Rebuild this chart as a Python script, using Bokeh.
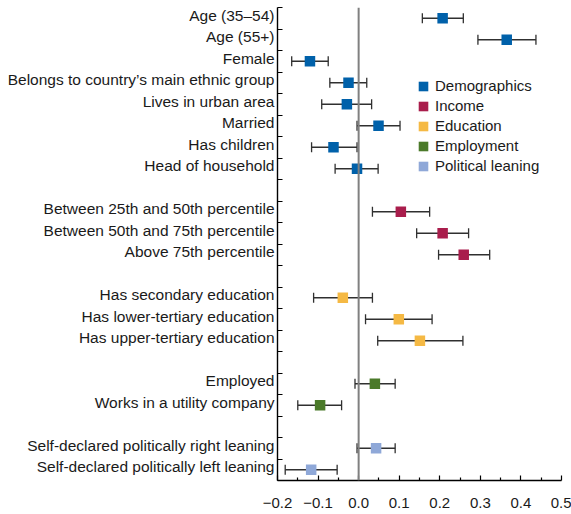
from bokeh.plotting import figure
from bokeh.models import (ColumnDataSource, Range1d, FixedTicker, Span, Whisker,
                          TeeHead, Legend, LegendItem)
from bokeh.embed import file_html
from bokeh.resources import INLINE

# Coefficient estimates with 95% confidence bounds, grouped by variable type
groups = ["Demographics", "Income", "Education", "Employment", "Political leaning"]
colors = ["#0061AA", "#A91D4C", "#F5B944", "#4B7A2A", "#8FA8D8"]

demo_labels = ["Age (35\u201354)", "Age (55+)", "Female",
               "Belongs to country\u2019s main ethnic group", "Lives in urban area",
               "Married", "Has children", "Head of household"]
demo_est = [0.207, 0.365, -0.120, -0.025, -0.029, 0.049, -0.062, -0.004]
demo_lo = [0.157, 0.294, -0.165, -0.071, -0.091, -0.004, -0.116, -0.058]
demo_hi = [0.258, 0.437, -0.075, 0.020, 0.032, 0.102, -0.004, 0.048]

inc_labels = ["Between 25th and 50th percentile", "Between 50th and 75th percentile",
              "Above 75th percentile"]
inc_est = [0.104, 0.207, 0.259]
inc_lo = [0.034, 0.143, 0.197]
inc_hi = [0.175, 0.271, 0.323]

edu_labels = ["Has secondary education", "Has lower-tertiary education",
              "Has upper-tertiary education"]
edu_est = [-0.039, 0.099, 0.151]
edu_lo = [-0.111, 0.017, 0.047]
edu_hi = [0.034, 0.181, 0.257]

emp_labels = ["Employed", "Works in a utility company"]
emp_est = [0.040, -0.095]
emp_lo = [-0.009, -0.150]
emp_hi = [0.090, -0.042]

pol_labels = ["Self-declared politically right leaning",
              "Self-declared politically left leaning"]
pol_est = [0.043, -0.117]
pol_lo = [-0.004, -0.181]
pol_hi = [0.090, -0.053]

x_ticks = [-0.2, -0.1, 0.0, 0.1, 0.2, 0.3, 0.4, 0.5]
x_tick_labels = ["\u22120.2", "\u22120.1", "0.0", "0.1", "0.2", "0.3", "0.4", "0.5"]

group_data = [
    (demo_labels, demo_est, demo_lo, demo_hi),
    (inc_labels, inc_est, inc_lo, inc_hi),
    (edu_labels, edu_est, edu_lo, edu_hi),
    (emp_labels, emp_est, emp_lo, emp_hi),
    (pol_labels, pol_est, pol_lo, pol_hi),
]

# Assign one row per variable, leaving an empty row between groups
row = 1
group_rows = []
label_map = {}
LABEL_LIFT = 0.13  # category labels sit slightly above the row centre
for labels, *_ in group_data:
    rows = []
    for lab in labels:
        rows.append(row)
        label_map[row - LABEL_LIFT] = lab
        row += 1
    group_rows.append(rows)
    row += 1
n_rows = row - 2

FONT = "Liberation Sans"

p = figure(width=571, height=514, output_backend="svg", toolbar_location=None,
           x_range=Range1d(-0.2, 0.5), y_range=Range1d(n_rows + 0.5, 0.5),
           min_border_left=277, min_border_right=10, min_border_top=7,
           min_border_bottom=34)
p.outline_line_color = None
p.xgrid.visible = False
p.ygrid.visible = False
p.background_fill_color = "white"
p.border_fill_color = "white"

# x axis: labelled ticks every 0.1, short ticks in between
xa = p.xaxis[0]
xa.ticker = FixedTicker(ticks=x_ticks,
                        minor_ticks=[t + 0.05 for t in x_ticks[:-1]])
xa.major_label_overrides = {t: s for t, s in zip(x_ticks, x_tick_labels)}
xa.major_tick_in = 5
xa.major_tick_out = 0
xa.minor_tick_in = 3
xa.minor_tick_out = 0
xa.axis_line_width = 1.4
xa.major_tick_line_width = 1.2
xa.minor_tick_line_width = 1.2
xa.major_label_text_font = FONT
xa.major_label_text_font_size = "15px"
xa.major_label_text_color = "#1a1a1a"
xa.major_label_standoff = 17

# y axis: labels at row centres, ticks at row boundaries
ya = p.yaxis[0]
ya.ticker = FixedTicker(ticks=list(label_map.keys()),
                        minor_ticks=[r + 0.5 for r in range(0, n_rows + 1)])
ya.major_label_overrides = {k: v for k, v in label_map.items()}
ya.major_tick_in = 0
ya.major_tick_out = 0
ya.minor_tick_in = 5
ya.minor_tick_out = 0
ya.axis_line_width = 1.4
ya.minor_tick_line_width = 1.2
ya.major_label_text_font = FONT
ya.major_label_text_font_size = "15.5px"
ya.major_label_text_color = "#1a1a1a"
ya.major_label_standoff = 3

p.add_layout(Span(location=0, dimension="height", line_color="#808080",
                  line_width=2))

bar_color = "#303030"
items = []
for (labels, est, lo, hi), rows, name, col in zip(group_data, group_rows, groups, colors):
    src = ColumnDataSource(dict(row=rows, est=est, lo=lo, hi=hi))
    p.add_layout(Whisker(source=src, base="row", lower="lo", upper="hi",
                         dimension="width", line_color=bar_color, line_width=1.3,
                         upper_head=TeeHead(size=10, line_color=bar_color, line_width=1.3),
                         lower_head=TeeHead(size=10, line_color=bar_color, line_width=1.3)))
    r = p.rect(x="est", y="row", width=10.5, height=10.5, width_units="screen",
               height_units="screen", source=src, fill_color=col, line_color=None)
    items.append(LegendItem(label=name, renderers=[r]))

legend = Legend(items=items, location=(140, 306), padding=0, margin=0,
                glyph_width=12, glyph_height=12, label_height=12, spacing=3,
                label_standoff=6, border_line_color=None,
                background_fill_alpha=0, label_text_font=FONT,
                label_text_font_size="15px", label_text_color="#1a1a1a")
p.add_layout(legend)

open("out.html", "w").write(file_html(p, INLINE))
